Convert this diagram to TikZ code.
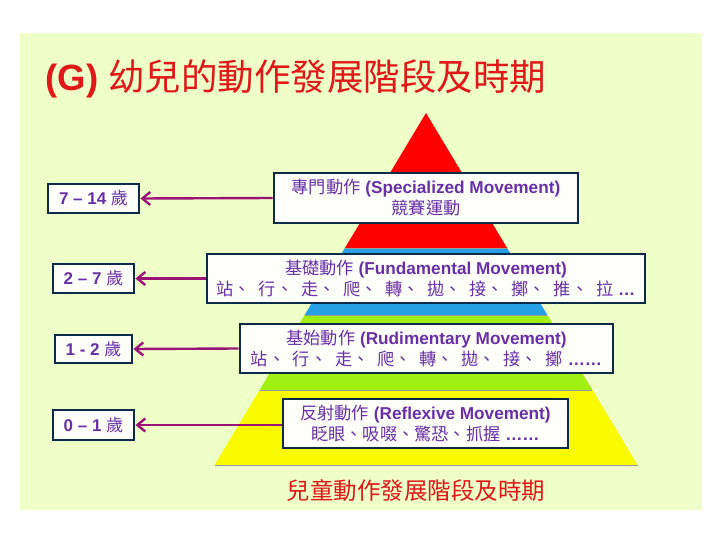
\documentclass[tikz,border=0pt]{standalone}
\usepackage{fontspec}
\setmainfont{Liberation Sans}
\newfontfamily\cjk{Noto Sans CJK TC}
\usetikzlibrary{arrows.meta}
\definecolor{bg}{HTML}{EEFFC8}
\definecolor{txt}{HTML}{6A2FA8}
\definecolor{arr}{HTML}{9A1478}
\definecolor{ttl}{HTML}{E01818}
\definecolor{bx}{HTML}{0E2A4A}
\tikzset{
 lvl/.style={draw=bx,line width=2.8pt,fill=white!92!bg,text=txt,align=center,inner sep=0pt,font=\fontsize{17.2}{21}\selectfont},
 age/.style={draw=bx,line width=2.8pt,fill=white!92!bg,text=txt,inner sep=0pt,font=\fontsize{17}{20}\selectfont\bfseries},
 con/.style={arr,line width=2.4pt,-{Straight Barb[length=8pt,width=13pt,line width=2.4pt]}}
}
\newcommand\sep{{\cjk 、}\hspace{0.45em}}
\begin{document}
\begin{tikzpicture}[x=1pt,y=-1pt]
\useasboundingbox (0,0) rectangle (720,540);
\fill[bg] (20,33) rectangle (702,510);
\node[anchor=west,text=ttl,font=\fontsize{36.5}{40}\selectfont] (title) at (42,79) {\textbf{(G)} {\cjk 幼兒的動作發展階段及時期}};
% pyramid bands
\def\hw#1{(#1-113)/352*211.5}
\fill[fill=red] (426,113) -- ({426+\hw{248}},248) -- ({426-\hw{248}},248) -- cycle;
\fill[fill={rgb,255:red,40;green,160;blue,230}] ({426-\hw{248}},248) -- ({426+\hw{248}},248) -- ({426+\hw{315}},315) -- ({426-\hw{315}},315) -- cycle;
\fill[fill={rgb,255:red,160;green,240;blue,20}] ({426-\hw{315}},315) -- ({426+\hw{315}},315) -- ({426+\hw{390}},390) -- ({426-\hw{390}},390) -- cycle;
\fill[fill={rgb,255:red,250;green,250;blue,0}] ({426-\hw{390}},390) -- ({426+\hw{390}},390) -- (637.5,465) -- (214.5,465) -- cycle;
\draw[black!40,line width=0.8pt] ({426-\hw{248}},248) -- ({426+\hw{248}},248)
 ({426-\hw{315}},315) -- ({426+\hw{315}},315) ({426-\hw{390}},390) -- ({426+\hw{390}},390)
 (214.5,465) -- (637.5,465);
% level boxes
\node[lvl,minimum width=304pt,minimum height=50pt] (s) at (426,198) {{\cjk 專門動作} \textbf{(Specialized Movement)}\\{\cjk 競賽運動}};
\node[lvl,minimum width=438pt,minimum height=49pt] (f) at (426,278.5) {{\cjk 基礎動作} \textbf{(Fundamental Movement)}\\{\cjk 站}\sep{\cjk 行}\sep{\cjk 走}\sep{\cjk 爬}\sep{\cjk 轉}\sep{\cjk 拋}\sep{\cjk 接}\sep{\cjk 擲}\sep{\cjk 推}\sep{\cjk 拉} \textbf{…}};
\node[lvl,minimum width=373pt,minimum height=49pt] (r) at (426.5,348.5) {{\cjk 基始動作} \textbf{(Rudimentary Movement)}\\{\cjk 站}\sep{\cjk 行}\sep{\cjk 走}\sep{\cjk 爬}\sep{\cjk 轉}\sep{\cjk 拋}\sep{\cjk 接}\sep{\cjk 擲} \textbf{……}};
\node[lvl,minimum width=285pt,minimum height=49pt] (x) at (425.5,423.5) {{\cjk 反射動作} \textbf{(Reflexive Movement)}\\{\cjk 眨眼、吸啜、驚恐、抓握} \textbf{……}};
% age boxes
\node[age,minimum width=91pt,minimum height=29pt] (a4) at (93.5,198.5) {7 – 14 {\cjk\mdseries 歲}};
\node[age,minimum width=81pt,minimum height=29pt] (a3) at (93.5,278.5) {2 – 7 {\cjk\mdseries 歲}};
\node[age,minimum width=77pt,minimum height=28pt] (a2) at (93.5,349) {1 - 2 {\cjk\mdseries 歲}};
\node[age,minimum width=81pt,minimum height=30pt] (a1) at (93.5,425) {0 – 1 {\cjk\mdseries 歲}};
\draw[con] (s.west) -- (a4.east);
\draw[con] (f.west) -- (a3.east);
\draw[con] (r.west) -- (a2.east);
\draw[con] (x.west|-a1.east) -- (a1.east);
\node[text=ttl,font=\fontsize{23.5}{26}\selectfont\cjk] (cap) at (416,491) {兒童動作發展階段及時期};
\end{tikzpicture}
\end{document}
